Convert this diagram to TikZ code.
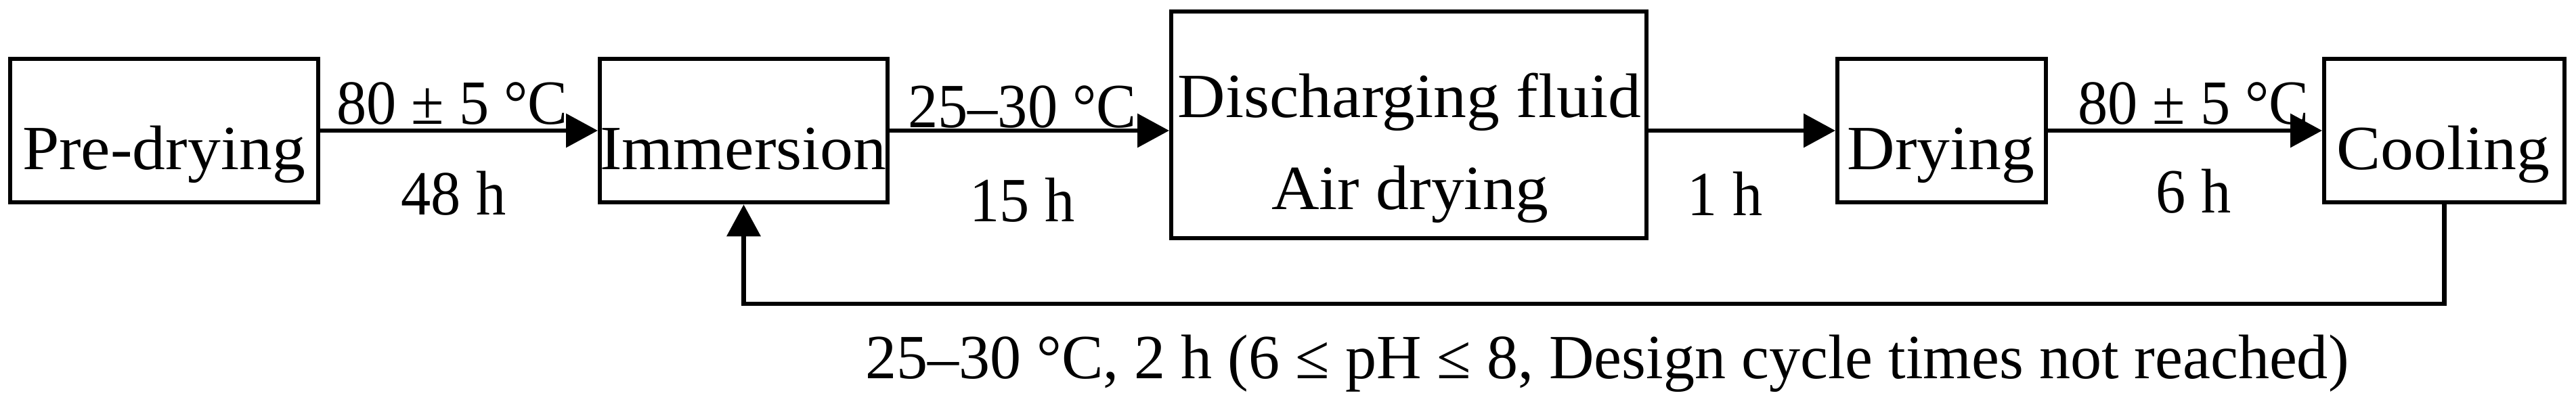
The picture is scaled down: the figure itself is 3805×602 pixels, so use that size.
\documentclass[tikz,border=0pt]{standalone}
\usepackage{fontspec}
\setmainfont{Liberation Serif}[FakeStretch=1.05]
\newfontfamily\lblfont{Liberation Serif}[FakeStretch=0.95]
\newfontfamily\fbfont{Liberation Serif}[FakeStretch=0.99]
\usetikzlibrary{arrows.meta}
\tikzset{
  box/.style={draw, line width=1.2pt, rectangle, inner sep=0pt, outer sep=0.6pt, minimum height=42.5pt},
  lbl/.style={inner sep=0pt, anchor=base},
  clbl/.style={lbl, font=\fontsize{18.6pt}{22pt}\lblfont},
  arr/.style={line width=1.35pt, -{Triangle[length=9.4pt,width=9.8pt]}},
}
\begin{document}
\begin{tikzpicture}[x=0.2pt,y=-0.2pt,font=\fontsize{18.6pt}{22pt}\selectfont]
\useasboundingbox (0,0) rectangle (3805,602);
% boxes
\node[box, minimum width=91pt] (pre) at (242.5,193) {};
\node[box, minimum width=85pt] (imm) at (1098.5,193) {};
\node[box, minimum width=140.4pt, minimum height=67pt] (dis) at (2081,184.5) {};
\node[box, minimum width=61.6pt] (dry) at (2868,193) {};
\node[box, minimum width=71pt] (cool) at (3610.5,193) {};
% box texts
\node[lbl] (tpre) at (242,250) {Pre-drying};
\node[lbl] (timm) at (1098,250) {Immersion};
\node[lbl] (tdis1) at (2082,173) {Discharging fluid};
\node[lbl] (tdis2) at (2083,309) {Air drying};
\node[lbl] (tdry) at (2867,250) {Drying};
\node[lbl] (tcool) at (3609,250) {Cooling};
% connectors
\draw[arr] (pre.east) -- (imm.west);
\draw[arr] (imm.east) -- (imm.east -| dis.west);
\draw[arr] (dis.east |- imm.east) -- (dry.west);
\draw[arr] (dry.east) -- (cool.west);
\coordinate (fbline) at (0,449);
\draw[arr] (cool.south) -- (cool.south |- fbline) -- (imm.south |- fbline) -- (imm.south);
% connector labels
\node[clbl] (l1a) at (668,183) {80 ± 5 °C};
\node[clbl] (l1b) at (670,317) {48 h};
\node[clbl] (l2a) at (1510,188) {25–30 °C};
\node[clbl] (l2b) at (1510,327) {15 h};
\node[clbl] (l3b) at (2548,318) {1 h};
\node[clbl] (l4a) at (3240,183) {80 ± 5 °C};
\node[clbl] (l4b) at (3240,314) {6 h};
\node[lbl, font=\fontsize{18.6pt}{22pt}\fbfont] (lfb) at (2374,559) {25–30 °C, 2 h (6 ≤ pH ≤ 8, Design cycle times not reached)};
\end{tikzpicture}
\end{document}
